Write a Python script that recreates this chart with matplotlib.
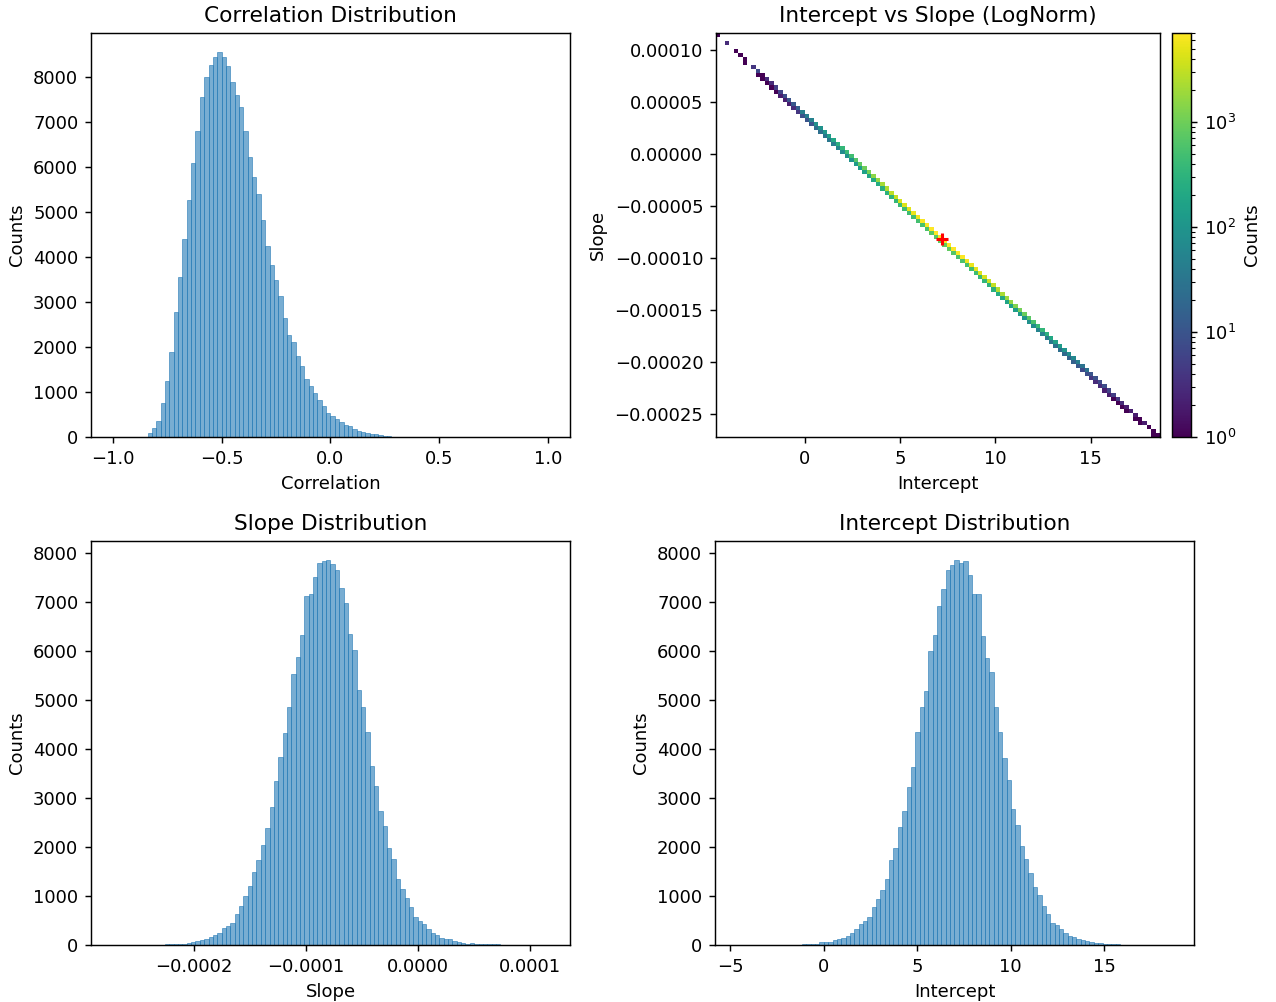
import numpy as np
import matplotlib
matplotlib.use("Agg")
import matplotlib.pyplot as plt
from matplotlib.colors import LogNorm

# --- correlation histogram: 100 bins on [-1, 1]
corr_range = (-1.0, 1.0)
corr_counts = [0, 0, 0, 0, 0, 0, 0, 10, 80, 207,
               355, 755, 1244, 1889, 2778, 3556, 4400, 5267, 6089, 6800,
               7556, 8000, 8267, 8444, 8556, 8444, 8244, 7889, 7600, 7333,
               6800, 6222, 5778, 5400, 4822, 4244, 3822, 3489, 3133, 2644,
               2267, 2111, 1800, 1578, 1289, 1133, 978, 822, 689, 540,
               474, 407, 333, 267, 252, 178, 133, 111, 89, 67,
               67, 44, 30, 12, 5, 2, 0, 0, 0, 0,
               0, 0, 0, 0, 0, 0, 0, 0, 0, 0,
               0, 0, 0, 0, 0, 0, 0, 0, 0, 0,
               0, 0, 0, 0, 0, 0, 0, 0, 0, 0]

# --- slope histogram: 100 bins
slope_range = (-0.0002721, 0.0001163)
slope_counts = [1, 0, 1, 1, 2, 1, 2, 3, 3, 4,
                6, 8, 10, 12, 15, 25, 30, 35, 60, 80,
                100, 130, 165, 205, 245, 350, 390, 450, 630, 800,
                1000, 1200, 1490, 1735, 2040, 2390, 2820, 3350, 3840, 4330,
                4860, 5530, 5880, 6330, 7120, 7180, 7510, 7800, 7840, 7860,
                7780, 7650, 7290, 6980, 6350, 6020, 5200, 4860, 4350, 3660,
                3240, 2730, 2430, 1980, 1755, 1350, 1140, 960, 775, 570,
                490, 430, 325, 245, 205, 145, 120, 120, 80, 60,
                40, 20, 40, 20, 15, 15, 12, 10, 10, 6,
                5, 4, 3, 3, 2, 2, 1, 1, 0, 1]

# --- intercept histogram: 100 bins
intercept_range = (-4.64, 18.62)
intercept_counts = [1, 0, 3, 0, 1, 1, 2, 0, 4, 8,
                    2, 3, 4, 6, 8, 10, 12, 14, 18, 55,
                    55, 60, 110, 115, 135, 175, 240, 320, 420, 485,
                    565, 770, 935, 1115, 1340, 1730, 1975, 2405, 2730, 3220,
                    3630, 4350, 4860, 5185, 6000, 6330, 6920, 7270, 7660, 7760,
                    7860, 7800, 7840, 7550, 7170, 7170, 6310, 5860, 5570, 4860,
                    4350, 3810, 3370, 2770, 2445, 2015, 1750, 1465, 1180, 1015,
                    790, 625, 445, 400, 320, 240, 175, 155, 115, 95,
                    75, 55, 35, 35, 14, 12, 10, 10, 8, 6,
                    5, 4, 3, 2, 3, 2, 2, 1, 2, 1]

# --- 2D histogram along the diagonal: per intercept column, the main cell
# and the cell just below it (one slope bin lower)
diag_main = [1, 0, 3, 0, 1, 1, 1, 0, 4, 7,
             1, 3, 3, 5, 6, 8, 10, 11, 14, 45,
             45, 50, 85, 90, 105, 140, 195, 260, 350, 400,
             470, 650, 800, 960, 1160, 1520, 1740, 2140, 2440, 2900,
             3280, 3960, 4440, 4740, 5520, 5830, 6390, 6720, 6950, 7050,
             7040, 7000, 7030, 6900, 6600, 6600, 5800, 5390, 5130, 4480,
             4010, 3510, 3100, 2540, 2240, 1840, 1595, 1330, 1065, 915,
             705, 555, 390, 350, 280, 205, 148, 130, 95, 78,
             60, 44, 28, 27, 10, 9, 7, 8, 6, 5,
             4, 3, 2, 2, 2, 1, 2, 1, 1, 1]
diag_below = [0, 0, 0, 0, 0, 0, 1, 0, 0, 1,
              1, 1, 1, 1, 2, 2, 2, 3, 4, 10,
              10, 10, 25, 25, 30, 35, 45, 60, 70, 85,
              95, 120, 135, 155, 180, 210, 235, 265, 290, 320,
              350, 390, 420, 445, 480, 500, 530, 550, 710, 710,
              820, 800, 810, 650, 570, 570, 510, 470, 440, 380,
              340, 300, 270, 230, 205, 175, 155, 135, 115, 100,
              85, 70, 55, 50, 40, 35, 27, 25, 20, 17,
              15, 11, 7, 8, 4, 3, 3, 2, 2, 1,
              1, 1, 1, 0, 1, 1, 0, 0, 1, 0]

true_intercept = 7.22
true_slope = -8.17e-5

hist_color = (31 / 255, 119 / 255, 180 / 255, 0.6)


def draw_hist(ax, counts, rng, title, xlabel):
    edges = np.linspace(rng[0], rng[1], len(counts) + 1)
    width = edges[1] - edges[0]
    ax.bar(edges[:-1], counts, width=width, align='edge',
           facecolor=hist_color, edgecolor=hist_color, linewidth=0.5)
    span = rng[1] - rng[0]
    ax.set_xlim(rng[0] - 0.05 * span, rng[1] + 0.05 * span)
    ax.set_title(title)
    ax.set_xlabel(xlabel)
    ax.set_ylabel("Counts")


fig = plt.figure(figsize=(1276 / 130, 1002 / 130), dpi=130)
ax1 = fig.add_axes([0.0713, 0.5639, 0.3754, 0.4032])
ax2 = fig.add_axes([0.5611, 0.5639, 0.3480, 0.4032])
cax = fig.add_axes([0.9185, 0.5639, 0.0149, 0.4032])
ax3 = fig.add_axes([0.0713, 0.0569, 0.3754, 0.4032])
ax4 = fig.add_axes([0.5603, 0.0569, 0.3754, 0.4032])

draw_hist(ax1, corr_counts, corr_range, "Correlation Distribution", "Correlation")
draw_hist(ax3, slope_counts, slope_range, "Slope Distribution", "Slope")
draw_hist(ax4, intercept_counts, intercept_range, "Intercept Distribution", "Intercept")

# 2D histogram
n = len(diag_main)
xedges = np.linspace(intercept_range[0], intercept_range[1], n + 1)
yedges = np.linspace(slope_range[0], slope_range[1], n + 1)
H = np.zeros((n, n))
for i in range(n):
    H[i, n - 1 - i] += diag_main[i]
    if n - 2 - i >= 0:
        H[i, n - 2 - i] += diag_below[i]
Hm = np.ma.masked_less_equal(H.T, 0)
mesh = ax2.pcolormesh(xedges, yedges, Hm, cmap='viridis',
                      norm=LogNorm(vmin=1, vmax=H.max()))
ax2.plot(true_intercept, true_slope, '+', color='red', markersize=7, mew=1.7)
ax2.set_title("Intercept vs Slope (LogNorm)")
ax2.set_xlabel("Intercept")
ax2.set_ylabel("Slope")
fig.colorbar(mesh, cax=cax, label="Counts")

fig.savefig("out.png", dpi=130)
